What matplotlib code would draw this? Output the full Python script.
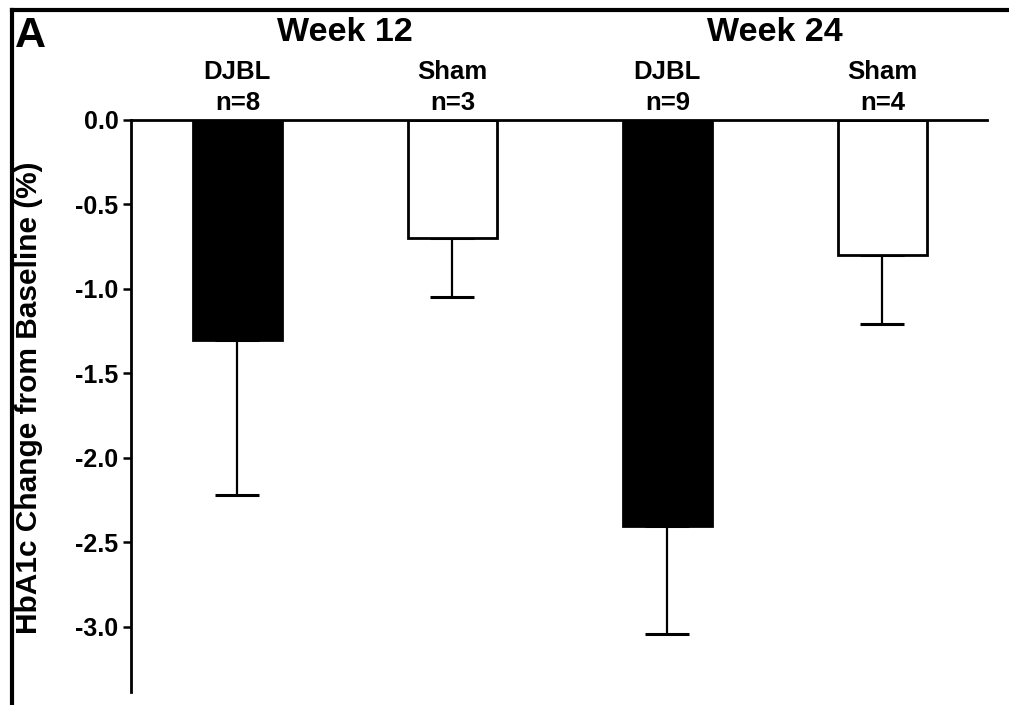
"""HbA1c change from baseline, DJBL vs Sham at week 12 and week 24."""
import matplotlib
matplotlib.use("Agg")
import matplotlib.pyplot as plt
from matplotlib.lines import Line2D
import numpy as np

plt.rcParams['font.family'] = ['Liberation Sans', 'DejaVu Sans']
plt.rcParams['font.weight'] = 'bold'

# data
groups = ['DJBL\nn=8', 'Sham\nn=3', 'DJBL\nn=9', 'Sham\nn=4']
weeks = ['Week 12', 'Week 24']
means = [-1.30, -0.70, -2.40, -0.80]
sem_low = [0.92, 0.35, 0.64, 0.41]
colors = ['black', 'white', 'black', 'white']
yticks = [0.0, -0.5, -1.0, -1.5, -2.0, -2.5, -3.0]

fig = plt.figure(figsize=(10.09, 7.05), dpi=100)
ax = fig.add_axes([0.1298, 0.0184, 0.978 - 0.1298, 0.8298 - 0.0184])

x = np.arange(len(groups))
width = 0.414
ax.bar(x, means, width, color=colors, edgecolor='black', linewidth=2, zorder=2)
ax.errorbar(x, means, yerr=[sem_low, [0] * len(means)], fmt='none',
            ecolor='black', elinewidth=1.6, capsize=16, capthick=2.2, zorder=1)

ax.axhline(0, color='black', lw=2, clip_on=False, zorder=3)
ax.set_xlim(-0.495, 3.486)
ax.set_ylim(-3.385, 0)
ax.set_yticks(yticks)
ax.set_yticklabels([f'{v:.1f}' for v in yticks], fontsize=18, fontweight='bold')
ax.tick_params(axis='y', length=6, width=1.8, pad=3)
ax.set_xticks([])
for s in ['top', 'right', 'bottom']:
    ax.spines[s].set_visible(False)
ax.spines['left'].set_linewidth(2)

# group labels above bars
for xi, g in zip(x, groups):
    ax.text(xi, 1.008, g, transform=ax.get_xaxis_transform(), ha='center',
            va='bottom', fontsize=18.5, fontweight='bold', linespacing=1.38)
for i, w in enumerate(weeks):
    ax.text(2 * i + 0.5, 1.138, w, transform=ax.get_xaxis_transform(), ha='center',
            va='baseline', fontsize=24.5, fontweight='bold')

fig.text(29 / 1009, 1 - 398 / 705, 'HbA1c Change from Baseline (%)', rotation=90,
         ha='center', va='center', fontsize=21.5, fontweight='bold')
fig.text(15 / 1009, 1 - 47 / 705, 'A', ha='left', va='baseline', fontsize=31,
         fontweight='bold')

# panel frame
fig.add_artist(Line2D([12 / 1009, 12 / 1009], [0, 1 - 10 / 705], color='black', lw=3))
fig.add_artist(Line2D([12 / 1009, 1], [1 - 10 / 705, 1 - 10 / 705], color='black', lw=3))

fig.savefig('out.png', dpi=100)
